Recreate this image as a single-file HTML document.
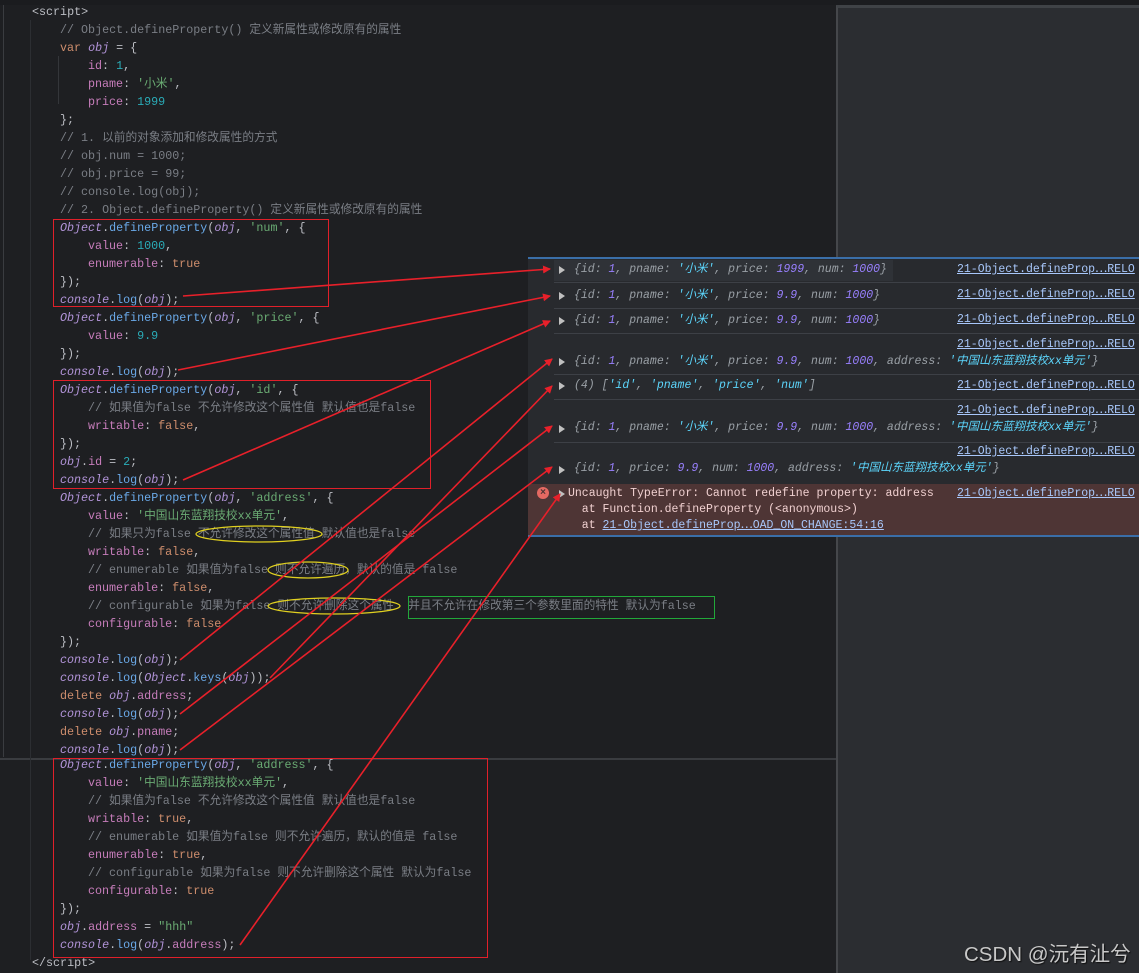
<!DOCTYPE html>
<html><head><meta charset="utf-8">
<style>
body{margin:0;width:1139px;height:973px;background:#1e1f22;position:relative;overflow:hidden;font-family:"Liberation Mono","Noto Sans CJK SC",monospace;}
.l{position:absolute;white-space:pre;font-size:11.7px;line-height:18px;height:18px;color:#bcbec4;}
.c{color:#7a7e85}.k{color:#cf8e6d}.o{color:#b294d9;font-style:italic}.f{color:#6aa9e8}.p{color:#c77dbb}.n{color:#2aacb8}.s{color:#6aab73}.b{color:#cf8e6d}
.cl{position:absolute;white-space:pre;font-size:11.5px;line-height:14px;font-style:italic;color:#9aa0a6;left:574px}
.cn{color:#9980ff}.cs{color:#5cd5fb}
.lk{position:absolute;left:957px;white-space:pre;font-size:11.5px;line-height:14px;color:#a8c7fa;text-decoration:underline;}
.tri{position:absolute;left:559px;width:0;height:0;border-left:6px solid #c0c0c0;border-top:4px solid transparent;border-bottom:4px solid transparent}
.sep{position:absolute;left:554px;width:585px;height:1px;background:#3d4046}
.box{position:absolute;border:1px solid #e0202a}
</style></head><body>
<div style="position:absolute;left:0;top:0;width:1139px;height:5px;background:#1b1c1f"></div>
<div style="position:absolute;left:3px;top:5px;width:1px;height:752px;background:#3a3c40"></div>
<div style="position:absolute;left:0;top:758px;width:836px;height:2px;background:#3a3c40"></div>
<div style="position:absolute;left:836px;top:5px;width:303px;height:968px;background:#2b2d31;border-left:2px solid #45474b;border-top:3px solid #3f4246;box-sizing:border-box"></div>
<div style="position:absolute;left:30px;top:20px;width:1px;height:940px;background:#2c2e32"></div>
<div style="position:absolute;left:58px;top:56px;width:1px;height:48px;background:#34363a"></div>

<div class="l" style="left:32px;top:3px">&lt;script&gt;</div>
<div class="l c" style="left:60px;top:21px">// Object.defineProperty() 定义新属性或修改原有的属性</div>
<div class="l" style="left:60px;top:39px"><span class="k">var</span> <span class="o">obj</span> = {</div>
<div class="l" style="left:88px;top:57px"><span class="p">id</span>: <span class="n">1</span>,</div>
<div class="l" style="left:88px;top:75px"><span class="p">pname</span>: <span class="s">'小米'</span>,</div>
<div class="l" style="left:88px;top:93px"><span class="p">price</span>: <span class="n">1999</span></div>
<div class="l" style="left:60px;top:111px">};</div>
<div class="l c" style="left:60px;top:129px">// 1. 以前的对象添加和修改属性的方式</div>
<div class="l c" style="left:60px;top:147px">// obj.num = 1000;</div>
<div class="l c" style="left:60px;top:165px">// obj.price = 99;</div>
<div class="l c" style="left:60px;top:183px">// console.log(obj);</div>
<div class="l c" style="left:60px;top:201px">// 2. Object.defineProperty() 定义新属性或修改原有的属性</div>
<div class="l" style="left:60px;top:219px"><span class="o">Object</span>.<span class="f">defineProperty</span>(<span class="o">obj</span>, <span class="s">'num'</span>, {</div>
<div class="l" style="left:88px;top:237px"><span class="p">value</span>: <span class="n">1000</span>,</div>
<div class="l" style="left:88px;top:255px"><span class="p">enumerable</span>: <span class="b">true</span></div>
<div class="l" style="left:60px;top:273px">});</div>
<div class="l" style="left:60px;top:291px"><span class="o">console</span>.<span class="f">log</span>(<span class="o">obj</span>);</div>
<div class="l" style="left:60px;top:309px"><span class="o">Object</span>.<span class="f">defineProperty</span>(<span class="o">obj</span>, <span class="s">'price'</span>, {</div>
<div class="l" style="left:88px;top:327px"><span class="p">value</span>: <span class="n">9.9</span></div>
<div class="l" style="left:60px;top:345px">});</div>
<div class="l" style="left:60px;top:363px"><span class="o">console</span>.<span class="f">log</span>(<span class="o">obj</span>);</div>
<div class="l" style="left:60px;top:381px"><span class="o">Object</span>.<span class="f">defineProperty</span>(<span class="o">obj</span>, <span class="s">'id'</span>, {</div>
<div class="l c" style="left:88px;top:399px">// 如果值为false 不允许修改这个属性值 默认值也是false</div>
<div class="l" style="left:88px;top:417px"><span class="p">writable</span>: <span class="b">false</span>,</div>
<div class="l" style="left:60px;top:435px">});</div>
<div class="l" style="left:60px;top:453px"><span class="o">obj</span>.<span class="p">id</span> = <span class="n">2</span>;</div>
<div class="l" style="left:60px;top:471px"><span class="o">console</span>.<span class="f">log</span>(<span class="o">obj</span>);</div>
<div class="l" style="left:60px;top:489px"><span class="o">Object</span>.<span class="f">defineProperty</span>(<span class="o">obj</span>, <span class="s">'address'</span>, {</div>
<div class="l" style="left:88px;top:507px"><span class="p">value</span>: <span class="s">'中国山东蓝翔技校xx单元'</span>,</div>
<div class="l c" style="left:88px;top:525px">// 如果只为false 不允许修改这个属性值 默认值也是false</div>
<div class="l" style="left:88px;top:543px"><span class="p">writable</span>: <span class="b">false</span>,</div>
<div class="l c" style="left:88px;top:561px">// enumerable 如果值为false 则不允许遍历，默认的值是 false</div>
<div class="l" style="left:88px;top:579px"><span class="p">enumerable</span>: <span class="b">false</span>,</div>
<div class="l c" style="left:88px;top:597px">// configurable 如果为false 则不允许删除这个属性  并且不允许在修改第三个参数里面的特性 默认为false</div>
<div class="l" style="left:88px;top:615px"><span class="p">configurable</span>: <span class="b">false</span></div>
<div class="l" style="left:60px;top:633px">});</div>
<div class="l" style="left:60px;top:651px"><span class="o">console</span>.<span class="f">log</span>(<span class="o">obj</span>);</div>
<div class="l" style="left:60px;top:669px"><span class="o">console</span>.<span class="f">log</span>(<span class="o">Object</span>.<span class="f">keys</span>(<span class="o">obj</span>));</div>
<div class="l" style="left:60px;top:687px"><span class="k">delete</span> <span class="o">obj</span>.<span class="p">address</span>;</div>
<div class="l" style="left:60px;top:705px"><span class="o">console</span>.<span class="f">log</span>(<span class="o">obj</span>);</div>
<div class="l" style="left:60px;top:723px"><span class="k">delete</span> <span class="o">obj</span>.<span class="p">pname</span>;</div>
<div class="l" style="left:60px;top:741px"><span class="o">console</span>.<span class="f">log</span>(<span class="o">obj</span>);</div>

<div class="l" style="left:60px;top:756px"><span class="o">Object</span>.<span class="f">defineProperty</span>(<span class="o">obj</span>, <span class="s">'address'</span>, {</div>
<div class="l" style="left:88px;top:774px"><span class="p">value</span>: <span class="s">'中国山东蓝翔技校xx单元'</span>,</div>
<div class="l c" style="left:88px;top:792px">// 如果值为false 不允许修改这个属性值 默认值也是false</div>
<div class="l" style="left:88px;top:810px"><span class="p">writable</span>: <span class="b">true</span>,</div>
<div class="l c" style="left:88px;top:828px">// enumerable 如果值为false 则不允许遍历，默认的值是 false</div>
<div class="l" style="left:88px;top:846px"><span class="p">enumerable</span>: <span class="b">true</span>,</div>
<div class="l c" style="left:88px;top:864px">// configurable 如果为false 则不允许删除这个属性 默认为false</div>
<div class="l" style="left:88px;top:882px"><span class="p">configurable</span>: <span class="b">true</span></div>
<div class="l" style="left:60px;top:900px">});</div>
<div class="l" style="left:60px;top:918px"><span class="o">obj</span>.<span class="p">address</span> = <span class="s">"hhh"</span></div>
<div class="l" style="left:60px;top:936px"><span class="o">console</span>.<span class="f">log</span>(<span class="o">obj</span>.<span class="p">address</span>);</div>
<div class="l" style="left:32px;top:954px">&lt;/script&gt;</div>

<div class="box" style="left:53px;top:219px;width:274px;height:86px"></div>
<div class="box" style="left:53px;top:380px;width:376px;height:107px"></div>
<div class="box" style="left:53px;top:758px;width:433px;height:198px"></div>
<div style="position:absolute;left:408px;top:596px;width:305px;height:21px;border:1.5px solid #22a83a"></div>

<div style="position:absolute;left:528px;top:257px;width:611px;height:280px;background:#282a2e;border-top:2px solid #3a6ea8;border-bottom:2px solid #3a6ea8;box-sizing:border-box"></div>
<div style="position:absolute;left:554px;top:260px;width:339px;height:21px;background:#2f3237"></div>
<div class="sep" style="top:282px"></div><div class="sep" style="top:308px"></div><div class="sep" style="top:333px"></div><div class="sep" style="top:374px"></div><div class="sep" style="top:399px"></div><div class="sep" style="top:442px"></div>
<div style="position:absolute;left:528px;top:484px;width:611px;height:51px;background:#4e3535"></div>

<div class="tri" style="top:266px"></div><div class="cl" style="top:263px">{id: <span class="cn">1</span>, pname: <span class="cs">'小米'</span>, price: <span class="cn">1999</span>, num: <span class="cn">1000</span>}</div><div class="lk" style="top:263px">21-Object.defineProp⋯RELO</div>
<div class="tri" style="top:292px"></div><div class="cl" style="top:289px">{id: <span class="cn">1</span>, pname: <span class="cs">'小米'</span>, price: <span class="cn">9.9</span>, num: <span class="cn">1000</span>}</div><div class="lk" style="top:288px">21-Object.defineProp⋯RELO</div>
<div class="tri" style="top:317px"></div><div class="cl" style="top:314px">{id: <span class="cn">1</span>, pname: <span class="cs">'小米'</span>, price: <span class="cn">9.9</span>, num: <span class="cn">1000</span>}</div><div class="lk" style="top:313px">21-Object.defineProp⋯RELO</div>
<div class="lk" style="top:338px">21-Object.defineProp⋯RELO</div>
<div class="tri" style="top:358px"></div><div class="cl" style="top:355px">{id: <span class="cn">1</span>, pname: <span class="cs">'小米'</span>, price: <span class="cn">9.9</span>, num: <span class="cn">1000</span>, address: <span class="cs">'中国山东蓝翔技校xx单元'</span>}</div>
<div class="tri" style="top:382px"></div><div class="cl" style="top:379px">(4) [<span class="cs">'id'</span>, <span class="cs">'pname'</span>, <span class="cs">'price'</span>, <span class="cs">'num'</span>]</div><div class="lk" style="top:379px">21-Object.defineProp⋯RELO</div>
<div class="lk" style="top:404px">21-Object.defineProp⋯RELO</div>
<div class="tri" style="top:425px"></div><div class="cl" style="top:421px">{id: <span class="cn">1</span>, pname: <span class="cs">'小米'</span>, price: <span class="cn">9.9</span>, num: <span class="cn">1000</span>, address: <span class="cs">'中国山东蓝翔技校xx单元'</span>}</div>
<div class="lk" style="top:445px">21-Object.defineProp⋯RELO</div>
<div class="tri" style="top:466px"></div><div class="cl" style="top:462px">{id: <span class="cn">1</span>, price: <span class="cn">9.9</span>, num: <span class="cn">1000</span>, address: <span class="cs">'中国山东蓝翔技校xx单元'</span>}</div>
<div style="position:absolute;left:537px;top:487px;width:12px;height:12px;border-radius:50%;background:#e46962;color:#4e3535;font:bold 10px/12px 'Liberation Sans',sans-serif;text-align:center">×</div>
<div class="tri" style="top:490px;left:559px"></div>
<div style="position:absolute;left:568px;top:486px;white-space:pre;font-size:11.5px;line-height:16px;color:#f0d0d0">Uncaught TypeError: Cannot redefine property: address
  at Function.defineProperty (&lt;anonymous&gt;)
  at <span style="color:#a8c7fa;text-decoration:underline">21-Object.defineProp⋯OAD_ON_CHANGE:54:16</span></div>
<div class="lk" style="top:487px">21-Object.defineProp⋯RELO</div>

<svg width="1139" height="973" style="position:absolute;left:0;top:0">
<defs><marker id="a" markerWidth="8" markerHeight="8" refX="7" refY="4" orient="auto" markerUnits="userSpaceOnUse"><path d="M0,0 L8,4 L0,8 z" fill="#e8202a"/></marker></defs>
<g fill="none" stroke="#e8202a" stroke-width="1.6">
<ellipse cx="259" cy="534" rx="63" ry="8" stroke="#e0d020" stroke-width="1.3"/>
<ellipse cx="308" cy="570" rx="40" ry="8" stroke="#e0d020" stroke-width="1.3"/>
<ellipse cx="334" cy="606" rx="66" ry="8" stroke="#e0d020" stroke-width="1.3"/>
<line x1="183" y1="296" x2="550" y2="269" marker-end="url(#a)"/>
<line x1="178" y1="370" x2="550" y2="296" marker-end="url(#a)"/>
<line x1="183" y1="480" x2="550" y2="321" marker-end="url(#a)"/>
<line x1="180" y1="660" x2="552" y2="359" marker-end="url(#a)"/>
<line x1="270" y1="678" x2="552" y2="386" marker-end="url(#a)"/>
<line x1="180" y1="714" x2="552" y2="426" marker-end="url(#a)"/>
<line x1="180" y1="750" x2="552" y2="467" marker-end="url(#a)"/>
<line x1="240" y1="945" x2="560" y2="494" marker-end="url(#a)"/>
</g></svg>
<div style="position:absolute;left:964px;top:937px;font:20.5px 'Liberation Sans','Noto Sans CJK SC',sans-serif;color:#c8c8c8;text-shadow:1px 1px 1px #111;white-space:pre">CSDN @沅有沚兮</div>
</body></html>
